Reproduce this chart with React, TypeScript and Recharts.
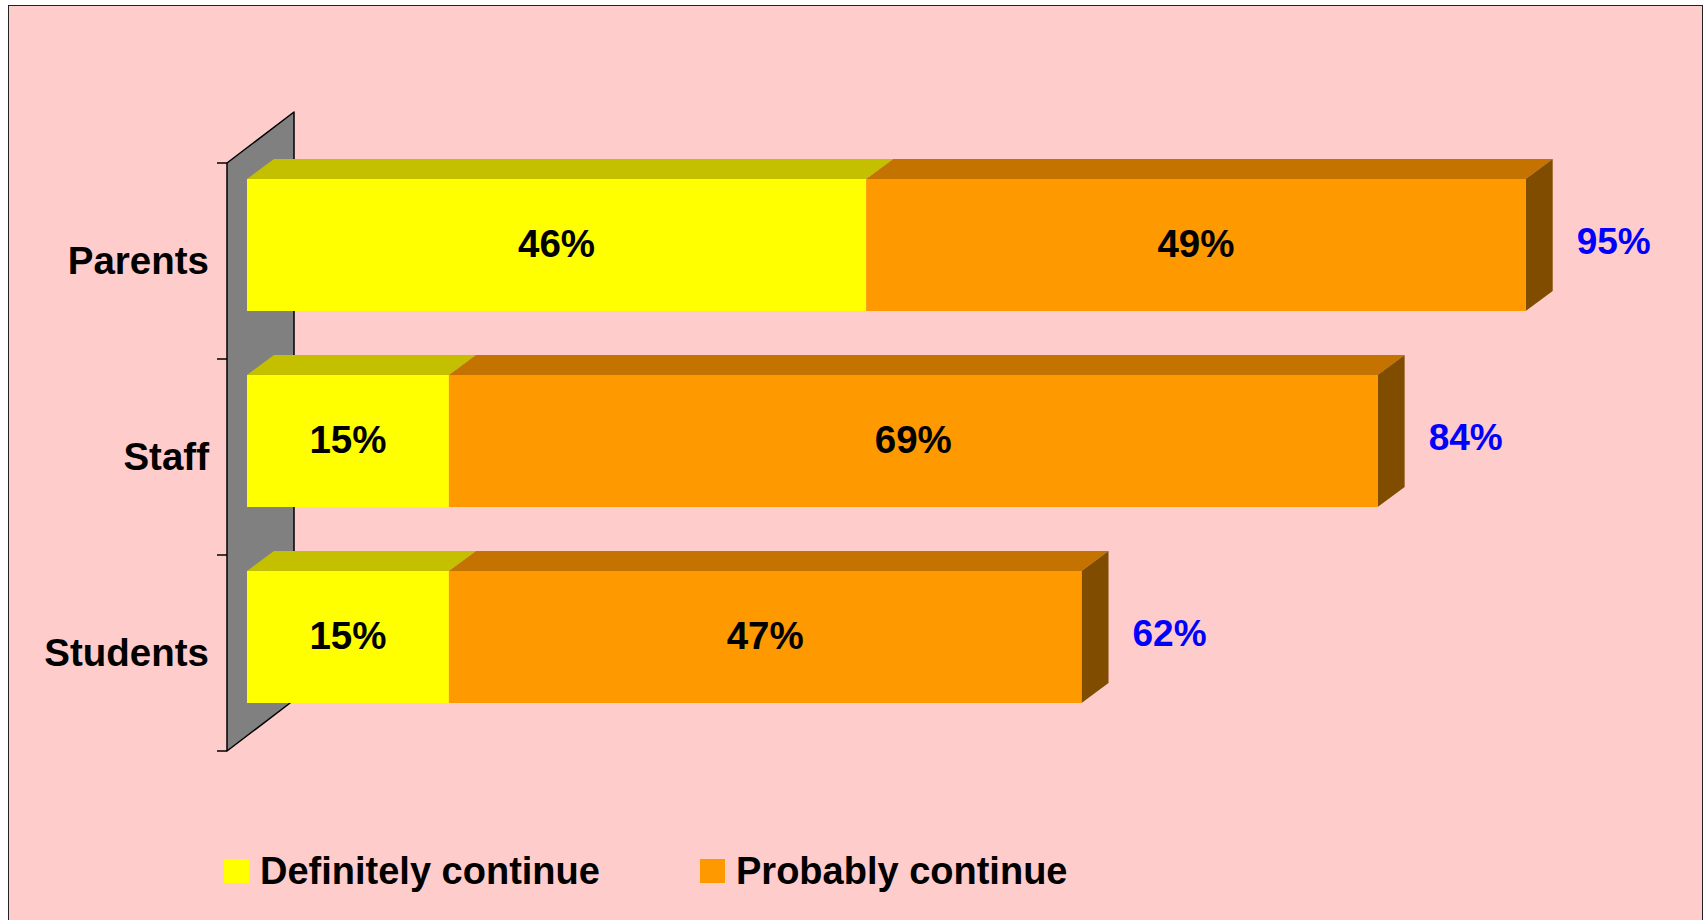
import { BarChart, Bar, XAxis, YAxis, LabelList } from "recharts";

// ─── Data ─────────────────────────────────────────────────────────────────────

const categories = ["Parents", "Staff", "Students"];
const definitely = [46, 15, 15];
const probably = [49, 69, 47];
const totals = [95, 84, 62];

const data = categories.map((name, i) => ({
  name,
  definitely: definitely[i],
  probably: probably[i],
  total: totals[i],
}));

// ─── Layout ───────────────────────────────────────────────────────────────────

const W = 1706;
const H = 920;
const FONT = '"Liberation Sans", Arial, sans-serif';
const MARGIN = { top: 147, right: 113, bottom: 185, left: 0 };
const AXIS_W = 247;
const PLOT_TOP = MARGIN.top;
const PLOT_H = H - MARGIN.top - MARGIN.bottom;
const DEPTH = { dx: 27, dy: 20 }; // bar top/side faces
const WALL_FRONT = { dx: -20, dy: 16 }; // wall front edge vs bar front face
const WALL_DEPTH = { dx: 67, dy: 51 };

const COLORS = {
  definitely: { front: "#FFFF00", top: "#C4C000", side: "#808000" },
  probably: { front: "#FF9900", top: "#C47200", side: "#804C00" },
};

// ─── Shapes ───────────────────────────────────────────────────────────────────

function Box3D(props: any) {
  const { x, y, width, height, colors, withSide } = props;
  if (!width || width <= 0) return null;
  const { dx, dy } = DEPTH;
  const topFace = `${x},${y} ${x + dx},${y - dy} ${x + width + dx},${y - dy} ${x + width},${y}`;
  const sideFace = `${x + width},${y} ${x + width + dx},${y - dy} ${x + width + dx},${y + height - dy} ${x + width},${y + height}`;
  return (
    <g>
      <polygon points={topFace} fill={colors.top} />
      {withSide && <polygon points={sideFace} fill={colors.side} />}
      <rect x={x} y={y} width={width} height={height} fill={colors.front} />
    </g>
  );
}

function InnerLabel(props: any) {
  const { x, y, width, height, value } = props;
  return (
    <text
      x={x + width / 2}
      y={y + height / 2 - 2}
      textAnchor="middle"
      dominantBaseline="central"
      fontFamily={FONT}
      fontWeight="bold"
      fontSize={38.5}
      fill="#000"
    >
      {`${value}%`}
    </text>
  );
}

function TotalLabel(props: any) {
  const { x, y, width, height, value } = props;
  return (
    <text
      x={x + width + 51}
      y={y + height / 2 - 4}
      textAnchor="start"
      dominantBaseline="central"
      fontFamily={FONT}
      fontWeight="bold"
      fontSize={37}
      fill="#0000FF"
    >
      {`${value}%`}
    </text>
  );
}

function CategoryTick(props: any) {
  const { x, y, payload } = props;
  return (
    <text
      x={x - 38}
      y={y + 15.5}
      textAnchor="end"
      dominantBaseline="central"
      fontFamily={FONT}
      fontWeight="bold"
      fontSize={38.5}
      fill="#000"
    >
      {payload.value}
    </text>
  );
}

// ─── Side wall (drawn behind the chart) ───────────────────────────────────────

function Wall() {
  const fx = AXIS_W + WALL_FRONT.dx;
  const top = PLOT_TOP + WALL_FRONT.dy;
  const bottom = top + PLOT_H;
  const band = PLOT_H / categories.length;
  const pts = `${fx},${top} ${fx + WALL_DEPTH.dx},${top - WALL_DEPTH.dy} ${fx + WALL_DEPTH.dx},${bottom - WALL_DEPTH.dy} ${fx},${bottom}`;
  return (
    <svg width={W} height={H} style={{ position: "absolute", left: 0, top: 0 }}>
      <polygon points={pts} fill="#808080" stroke="#000" strokeWidth={1.5} strokeLinejoin="round" />
      {Array.from({ length: categories.length + 1 }, (_, i) => (
        <line key={i} x1={fx - 10} x2={fx} y1={top + i * band} y2={top + i * band} stroke="#000" strokeWidth={1.5} />
      ))}
    </svg>
  );
}

// ─── Legend ───────────────────────────────────────────────────────────────────

const legendItems = [
  { label: "Definitely continue", color: COLORS.definitely.front, left: 224 },
  { label: "Probably continue", color: COLORS.probably.front, left: 700 },
];

export default function App() {
  return (
    <div style={{ position: "absolute", left: 0, top: 0, width: W, height: H, background: "#fff", overflow: "hidden" }}>
      <div
        style={{
          position: "absolute",
          left: 8,
          top: 5,
          width: 1695,
          height: 940,
          boxSizing: "border-box",
          border: "1px solid #222",
          background: "#FFCCCC",
        }}
      />
      <Wall />
      <div style={{ position: "absolute", left: 0, top: 0 }}>
        <BarChart width={W} height={H} data={data} layout="vertical" margin={MARGIN}>
          <XAxis type="number" domain={[0, 100]} hide />
          <YAxis
            type="category"
            dataKey="name"
            width={AXIS_W}
            axisLine={false}
            tickLine={false}
            tickSize={0}
            tickMargin={0}
            tick={<CategoryTick />}
          />
          <Bar
            dataKey="definitely"
            stackId="a"
            barSize={132}
            isAnimationActive={false}
            shape={(p: any) => <Box3D {...p} colors={COLORS.definitely} />}
          >
            <LabelList dataKey="definitely" content={<InnerLabel />} />
          </Bar>
          <Bar
            dataKey="probably"
            stackId="a"
            barSize={132}
            isAnimationActive={false}
            shape={(p: any) => <Box3D {...p} colors={COLORS.probably} withSide />}
          >
            <LabelList dataKey="probably" content={<InnerLabel />} />
            <LabelList dataKey="total" content={<TotalLabel />} />
          </Bar>
        </BarChart>
      </div>
      {legendItems.map((it) => (
        <div
          key={it.label}
          style={{
            position: "absolute",
            left: it.left,
            top: 851,
            height: 40,
            display: "flex",
            alignItems: "center",
            fontFamily: FONT,
            fontWeight: "bold",
            fontSize: 38,
            color: "#000",
            whiteSpace: "nowrap",
          }}
        >
          <span style={{ display: "inline-block", width: 25, height: 24, background: it.color, marginRight: 11 }} />
          {it.label}
        </div>
      ))}
    </div>
  );
}
